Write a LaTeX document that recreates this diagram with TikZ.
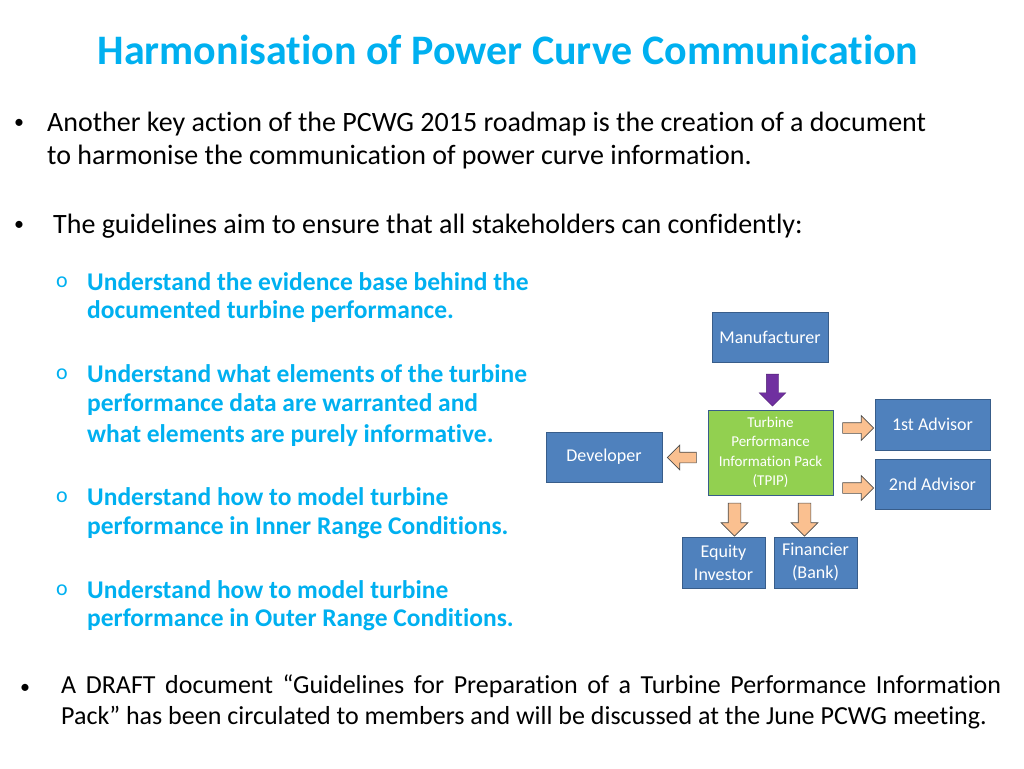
\documentclass[tikz,border=0pt]{standalone}
\usepackage{fontspec}
\setmainfont[Ligatures=NoCommon]{Carlito}
\usetikzlibrary{shapes.arrows}
\definecolor{ttl}{RGB}{0,176,240}
\definecolor{boxb}{RGB}{79,129,189}
\definecolor{boxbd}{RGB}{56,93,138}
\definecolor{grn}{RGB}{146,208,80}
\definecolor{orng}{RGB}{250,192,144}
\definecolor{purp}{RGB}{112,48,160}
\begin{document}
\begin{tikzpicture}[x=1pt,y=-1pt,
 body/.style={anchor=west,inner sep=0pt,font=\fontsize{28}{32}\selectfont,text=black},
 sub/.style={anchor=west,inner sep=0pt,font=\fontsize{25.5}{30}\selectfont\bfseries,text=ttl},
 bull/.style={anchor=west,inner sep=0pt,font=\fontsize{20}{24}\selectfont},
 ob/.style={anchor=west,inner sep=0pt,font=\fontsize{22}{26}\selectfont,text=ttl},
 bbox/.style={draw=boxbd,fill=boxb,line width=1pt,text=white,inner sep=0pt,align=center,font=\fontsize{18}{23}\selectfont},
 arr/.style={single arrow,draw=black!70,fill=orng,line width=0.6pt,single arrow tip angle=90}]
\useasboundingbox (0,0) rectangle (1024,768);
\node[inner sep=0pt,font=\fontsize{42}{46}\selectfont\bfseries,text=ttl] (title) at (508,50) {Harmonisation of Power Curve Communication};
\node[bull] (b1) at (14,124) {•};
\node[body] (t1) at (47,124) {Another key action of the PCWG 2015 roadmap is the creation of a document};
\node[body] (t1b) at (47,157) {to harmonise the communication of power curve information.};
\node[bull] (b2) at (14,226) {•};
\node[body] (t2) at (53,226) {The guidelines aim to ensure that all stakeholders can confidently:};
\foreach \y/\n in {282/o1,374/o2,497/o3,590/o4}{\node[ob] (\n) at (56,\y) {o};}
\node[sub] (s1) at (87,282) {Understand the evidence base behind the};
\node[sub] (s1b) at (87,312) {documented turbine performance.};
\node[sub] (s2) at (87,374) {Understand what elements of the turbine};
\node[sub] (s2b) at (87,405) {performance data are warranted and};
\node[sub] (s2c) at (87,436) {what elements are purely informative.};
\node[sub] (s3) at (87,497) {Understand how to model turbine};
\node[sub] (s3b) at (87,528) {performance in Inner Range Conditions.};
\node[sub] (s4) at (87,590) {Understand how to model turbine};
\node[sub] (s4b) at (87,620) {performance in Outer Range Conditions.};
\node[bull] (b3) at (20,689) {•};
\node[anchor=north west,inner sep=0pt,text width=940pt,align=justify,font=\fontsize{26}{30.5}\selectfont] (t3) at (61,675)
 {\hyphenpenalty=10000\relax A DRAFT document “Guidelines for Preparation of a Turbine Performance Information Pack” has been circulated to members and will be discussed at the June PCWG meeting.};
% diagram
\node[bbox,minimum width=116pt,minimum height=50pt] (man) at (770,337) {Manufacturer};
\node[draw=boxbd,fill=grn,line width=1pt,text=white,inner sep=0pt,align=center,font=\fontsize{15}{19.5}\selectfont,minimum width=125pt,minimum height=85pt] (tpip) at (770.5,452.5) {Turbine\\Performance\\Information Pack\\(TPIP)};
\node[bbox,minimum width=116pt,minimum height=50pt] (dev) at (604,457) {Developer};
\node[bbox,minimum width=115pt,minimum height=51pt] (a1) at (932.5,424.5) {1st Advisor};
\node[bbox,minimum width=115pt,minimum height=50pt] (a2) at (932.5,484) {2nd Advisor};
\node[bbox,minimum width=83pt,minimum height=51pt] (eq) at (723.5,562.5) {Equity\\Investor};
\node[bbox,minimum width=83pt,minimum height=51pt] (fin) at (815.5,562.5) {Financier\\(Bank)};
\node[single arrow,fill=purp,draw=purp!70!black,inner ysep=0pt,inner xsep=6pt,minimum width=22pt,minimum height=32pt,single arrow tip angle=90,shape border rotate=270] (pa) at (772.5,387) {};
\node[arr,inner xsep=0pt,inner ysep=5pt,minimum width=20pt,minimum height=29pt,shape border rotate=180] (ad) at (684.5,457.5) {};
\node[arr,inner xsep=0pt,inner ysep=5pt,minimum width=20pt,minimum height=31pt] (ar1) at (855.5,428) {};
\node[arr,inner xsep=0pt,inner ysep=5pt,minimum width=20pt,minimum height=31pt] (ar2) at (855.5,488) {};
\node[arr,inner ysep=0pt,inner xsep=6pt,minimum width=24pt,minimum height=33pt,shape border rotate=270] (ae) at (734.5,516.5) {};
\node[arr,inner ysep=0pt,inner xsep=6pt,minimum width=24pt,minimum height=33pt,shape border rotate=270] (af) at (804.5,516.5) {};
\end{tikzpicture}
\end{document}
